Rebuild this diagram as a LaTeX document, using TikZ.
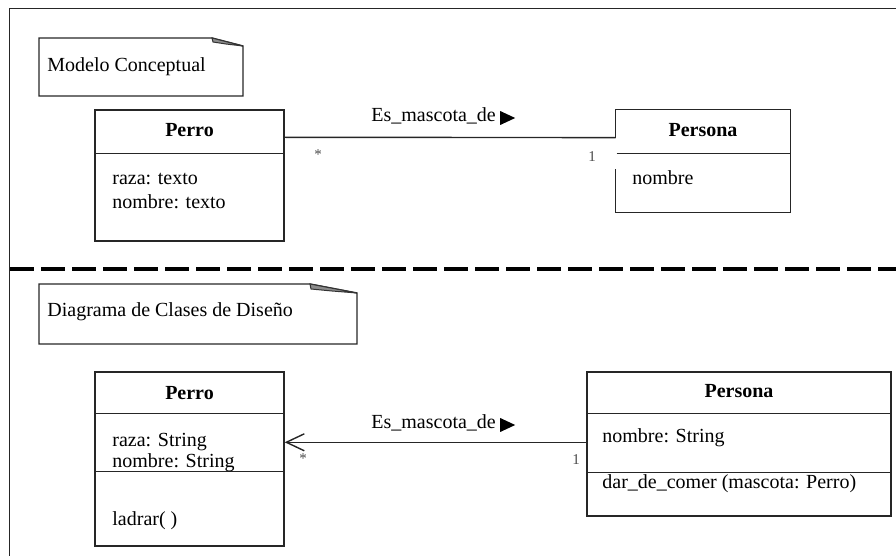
\documentclass[tikz,border=0pt]{standalone}
\usepackage{fontspec}
\setmainfont{Liberation Serif}
\usetikzlibrary{arrows.meta}
\begin{document}
\begin{tikzpicture}[x=0.5pt,y=-0.5pt,
  ln/.style={line width=0.7pt, draw=black!85},
  txt/.style={inner sep=0, anchor=base west, font=\fontsize{10}{12}\selectfont},
  ttl/.style={inner sep=0, anchor=base, font=\fontsize{10}{12}\selectfont\bfseries},
  mult/.style={inner sep=0, font=\fontsize{7.5}{9}\selectfont, text=black!70},
  classbox/.style={ln, rectangle, inner sep=0},
  foldfill/.style={fill=black!45, draw=black!80, line width=0.5pt}]
\useasboundingbox (0,0) rectangle (896,556);

% outer frame
\draw[ln] (896,8.5) -- (9.5,8.5) -- (9.5,556);
% separator
\draw[line width=2.25pt, dash pattern=on 12pt off 3.5pt] (10,269) -- (896,269);

% ---------- Notes ----------
\draw[ln] (212,38) -- (39,38) -- (39,96) -- (243,96) -- (243,46) -- (212,38);
\filldraw[foldfill] (212,38) -- (243,46) -- (226,44) -- (213,42) -- cycle;
\node[txt] (note1) at (47,72) {Modelo Conceptual};

\draw[ln] (310,284) -- (39,284) -- (39,344) -- (357,344) -- (357,293) -- (310,284);
\filldraw[foldfill] (310,284) -- (357,293) -- (332,291) -- (311,289) -- cycle;
\node[txt] (note2) at (47,317) {Diagrama de Clases de Diseño};

% ---------- Conceptual model ----------
\node[classbox, draw, minimum width=94.5pt, minimum height=65.5pt] (perro1) at (189.5,175.5) {};
\draw[ln] ([yshift=-22pt]perro1.north west) -- ([yshift=-22pt]perro1.north east);
\node[ttl] (perro1t) at (189.5,137) {Perro};
\node[txt] (perro1a) at (112,185) {raza: texto};
\node[txt] (perro1b) at (112,209) {nombre: texto};

\node[inner sep=0, minimum width=87pt, minimum height=51pt] (persona1) at (703,161) {};
\draw[ln] ([yshift=-14pt]persona1.north west) -- (persona1.north west) -- (persona1.north east)
  -- (persona1.south east) -- (persona1.south west) -- ([yshift=21.5pt]persona1.south west);
\draw[ln] ([xshift=0.5pt,yshift=-22pt]persona1.north west) -- ([yshift=-22pt]persona1.north east);
\node[ttl] (persona1t) at (703,137) {Persona};
\node[txt] (persona1a) at (632,185) {nombre};

\draw[ln] ([yshift=-14pt]perro1.north east) -- ([yshift=-14pt]persona1.north west);
\node[txt] (lbl1) at (371,122) {Es\_mascota\_de};
\fill ([xshift=2pt,yshift=5.5pt]lbl1.base east) -- ++(7.5pt,-3.5pt) -- ++(-7.5pt,-3.5pt) -- cycle;
\node[mult] (m1a) at (318,155) {*};
\node[mult] (m1b) at (592,157) {1};

% ---------- Design class diagram ----------
\node[classbox, draw, minimum width=94.5pt, minimum height=87pt] (perro2) at (189.5,459) {};
\draw[ln] ([yshift=-21pt]perro2.north west) -- ([yshift=-21pt]perro2.north east);
\draw[ln] ([yshift=-50pt]perro2.north west) -- ([yshift=-50pt]perro2.north east);
\node[ttl] (perro2t) at (189.5,400) {Perro};
\node[txt] (perro2a) at (112,446) {raza: String};
\node[txt] (perro2b) at (112,467) {nombre: String};
\node[txt] (perro2c) at (112,525) {ladrar( )};

\node[classbox, draw, minimum width=152pt, minimum height=72pt] (persona2) at (739,444) {};
\draw[ln] ([yshift=-21pt]persona2.north west) -- ([yshift=-21pt]persona2.north east);
\draw[ln] ([yshift=-50.5pt]persona2.north west) -- ([yshift=-50.5pt]persona2.north east);
\node[ttl] (persona2t) at (739,398) {Persona};
\node[txt] (persona2a) at (602,443) {nombre: String};
\node[txt] (persona2b) at (602,488) {dar\_de\_comer (mascota: Perro)};

\draw[ln, -{Straight Barb[length=9pt, width=8.5pt, line width=0.7pt]}]
  ([yshift=-35.5pt]persona2.north west) -- ([yshift=-35.5pt]perro2.north east);
\node[txt] (lbl2) at (371,429) {Es\_mascota\_de};
\fill ([xshift=2pt,yshift=5.5pt]lbl2.base east) -- ++(7.5pt,-3.5pt) -- ++(-7.5pt,-3.5pt) -- cycle;
\node[mult] (m2a) at (303,459) {*};
\node[mult] (m2b) at (576,460) {1};
\end{tikzpicture}
\end{document}
